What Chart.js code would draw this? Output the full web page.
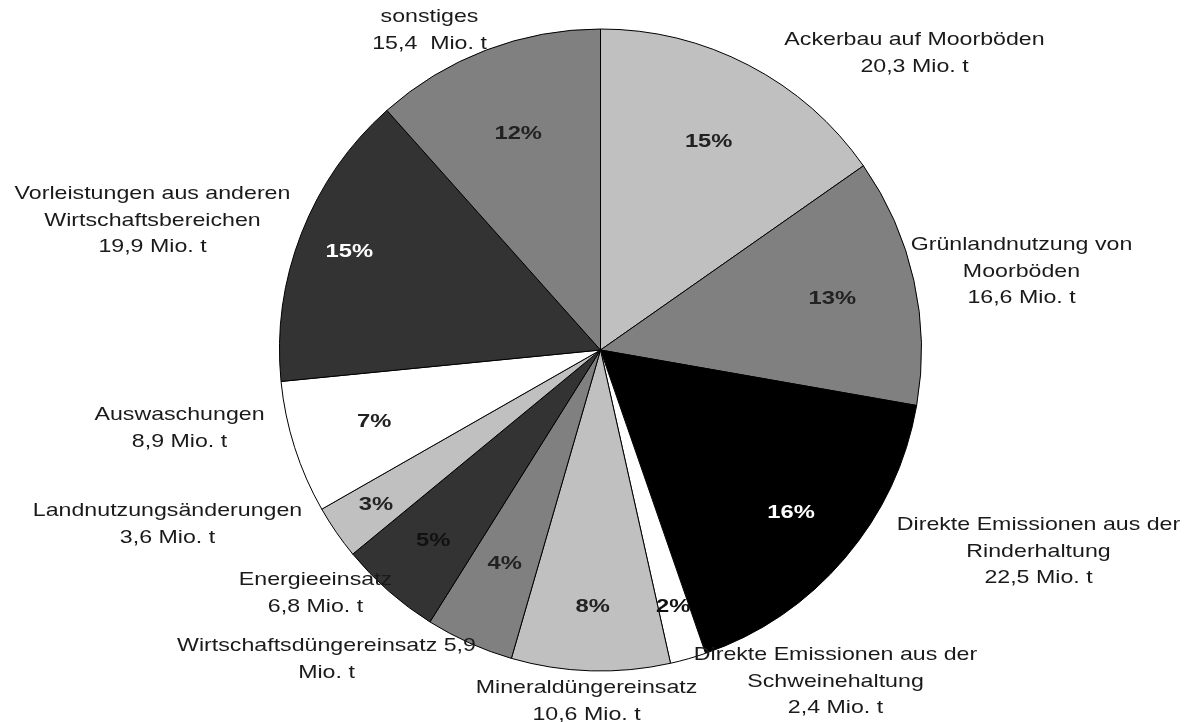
<!DOCTYPE html>
<html>
<head>
<meta charset="utf-8">
<script src="https://cdn.jsdelivr.net/npm/chart.js@4"></script>
<style>
    html, body { margin: 0; padding: 0; background: #fff; }
    #wrap { width: 1193px; height: 722px; }
</style>
</head>
<body>
<div id="wrap"><canvas id="pieChart" width="1193" height="722"></canvas></div>
<script>
// data, clockwise from 12 o'clock
const categories = [
    "Ackerbau auf Moorböden",
    "Grünlandnutzung von Moorböden",
    "Direkte Emissionen aus der Rinderhaltung",
    "Direkte Emissionen aus der Schweinehaltung",
    "Mineraldüngereinsatz",
    "Wirtschaftsdüngereinsatz",
    "Energieeinsatz",
    "Landnutzungsänderungen",
    "Auswaschungen",
    "Vorleistungen aus anderen Wirtschaftsbereichen",
    "sonstiges"
];
const values = [20.3, 16.6, 22.5, 2.4, 10.6, 5.9, 6.8, 3.6, 8.9, 19.9, 15.4];
const percentLabels = ["15%", "13%", "16%", "2%", "8%", "4%", "5%", "3%", "7%", "15%", "12%"];
const valueLabels = ["20,3 Mio. t", "16,6 Mio. t", "22,5 Mio. t", "2,4 Mio. t", "10,6 Mio. t",
    "5,9", "6,8 Mio. t", "3,6 Mio. t", "8,9 Mio. t", "19,9 Mio. t", "15,4  Mio. t"];

// how each outside label is broken into lines
const labelLines = [
    [categories[0], valueLabels[0]],
    ["Grünlandnutzung von", "Moorböden", valueLabels[1]],
    ["Direkte Emissionen aus der", "Rinderhaltung", valueLabels[2]],
    ["Direkte Emissionen aus der", "Schweinehaltung", valueLabels[3]],
    [categories[4], valueLabels[4]],
    [categories[5] + " " + valueLabels[5], "Mio. t"],
    [categories[6], valueLabels[6]],
    [categories[7], valueLabels[7]],
    [categories[8], valueLabels[8]],
    ["Vorleistungen aus anderen", "Wirtschaftsbereichen", valueLabels[9]],
    [categories[10], valueLabels[10]]
];

// styling
const sliceColors = ["#c0c0c0", "#808080", "#000000", "#ffffff", "#c0c0c0", "#808080",
    "#333333", "#c0c0c0", "#ffffff", "#333333", "#808080"];
const pctColors = ["#222", "#222", "#fff", "#111", "#222", "#222", "#111", "#222", "#222", "#fff", "#222"];
const pctRadius = [0.73, 0.74, 0.78, 0.83, 0.8, 0.73, 0.79, 0.85, 0.74, 0.84, 0.72];
// outside label anchors: first-line centre, offset from pie centre (px)
const labelPos = [
    [314, -310], [421, -105], [438, 175], [235, 305], [-14, 338], [-274, 296],
    [-285, 230], [-433, 161], [-421, 65], [-448, -156], [-171, -333]
];
const hScale = 1.22;   // text in the original is stretched horizontally
const lineGap = 26.5;

function stretchedText(ctx, txt, x, y, sx) {
    ctx.save();
    ctx.translate(x, y);
    ctx.scale(sx, 1);
    ctx.fillText(txt, 0, 0);
    ctx.restore();
}

const labelPlugin = {
    id: "pieLabels",
    afterDraw(chart) {
        const ctx = chart.ctx;
        const meta = chart.getDatasetMeta(0);
        const arc0 = meta.data[0];
        const cx = arc0.x, cy = arc0.y, r = arc0.outerRadius;
        ctx.save();
        ctx.textAlign = "center";
        ctx.textBaseline = "middle";

        // percentages inside the slices
        ctx.font = "bold 19px 'Liberation Sans', Arial, sans-serif";
        meta.data.forEach((arc, i) => {
            const mid = (arc.startAngle + arc.endAngle) / 2;
            const d = r * pctRadius[i];
            ctx.fillStyle = pctColors[i];
            stretchedText(ctx, percentLabels[i], cx + Math.cos(mid) * d, cy + Math.sin(mid) * d, 1.25);
        });

        // category labels outside
        ctx.font = "19px 'Liberation Sans', Arial, sans-serif";
        ctx.fillStyle = "#1a1a1a";
        labelLines.forEach((lines, i) => {
            lines.forEach((ln, j) => {
                stretchedText(ctx, ln, cx + labelPos[i][0], cy + labelPos[i][1] + j * lineGap, hScale);
            });
        });
        ctx.restore();
    }
};

new Chart(document.getElementById("pieChart"), {
    type: "pie",
    data: {
        labels: categories,
        datasets: [{
                data: values,
                backgroundColor: sliceColors,
                borderColor: "#000000",
                borderWidth: 1
            }]
    },
    options: {
        responsive: false,
        animation: false,
        layout: {
            padding: {left: 279, right: 271, top: 28, bottom: 50}
        },
        plugins: {
            legend: {display: false},
            tooltip: {enabled: false}
        }
    },
    plugins: [labelPlugin]
});
</script>
</body>
</html>
